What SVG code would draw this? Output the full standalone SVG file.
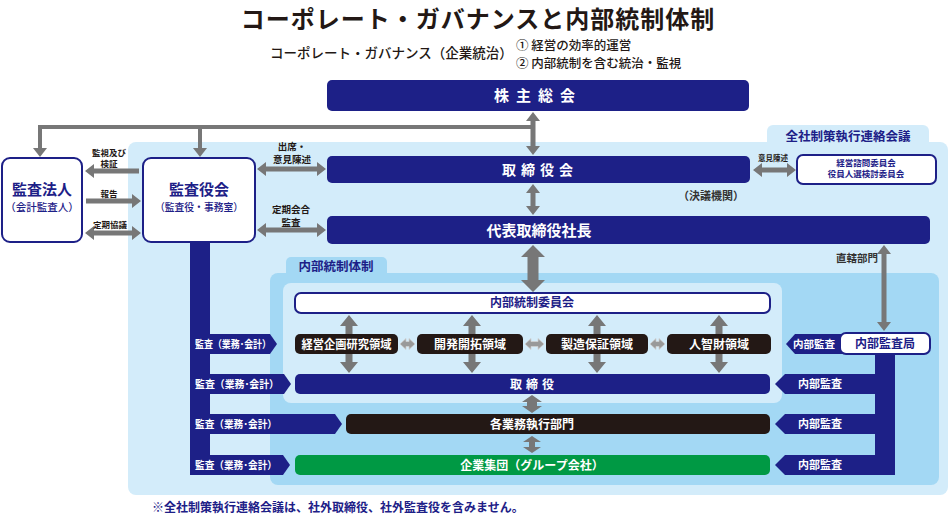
<svg xmlns="http://www.w3.org/2000/svg" width="950" height="516" viewBox="0 0 950 516">
<style>
text{font-family:"Noto Sans CJK JP","Noto Sans",sans-serif;font-weight:bold}
.nv{fill:#1d2087}
.dk{fill:#231815}
.gr{fill:#009944}
.w{fill:#ffffff}
.wb{fill:#ffffff;stroke:#1d2087;stroke-width:2}
.arr{fill:#777777}
.arrL{fill:#999999;stroke:#d0d0d0;stroke-width:0.8}
.ln{fill:none;stroke:#777777;stroke-width:4}
.lt{fill:#d3ecfa}
.md{fill:#a3d8f4}
.c{text-anchor:middle}
.m{font-weight:500}
</style>
<rect width="950" height="516" fill="#ffffff"/>

<g id="title">
<text x="478" y="28" class="c" font-size="24" fill="#231815" letter-spacing="1">コーポレート・ガバナンスと内部統制体制</text>
<text x="270" y="58" font-size="13.5" fill="#231815" class="m">コーポレート・ガバナンス（企業統治）</text>
<text x="516" y="50" font-size="12.5" fill="#231815" class="m">① 経営の効率的運営</text>
<text x="516" y="67.5" font-size="12.5" fill="#231815" class="m">② 内部統制を含む統治・監視</text>
</g>

<g id="regions">
<rect x="767" y="125" width="162" height="30" rx="6" class="lt"/>
<rect x="128" y="142" width="820" height="353" rx="8" class="lt"/>
<text x="848" y="141" class="c nv" font-size="12.5">全社制策執行連絡会議</text>
<rect x="286" y="257" width="101" height="26" rx="5" class="md"/>
<rect x="270" y="273" width="669" height="212" rx="8" class="md"/>
<text x="336" y="271" class="c nv" font-size="12.5">内部統制体制</text>
<rect x="283" y="283" width="499" height="120" rx="8" class="lt"/>
</g>

<g id="connectors">
<path class="ln" d="M40,149 V127 H533 M200,127 V149"/>
<polygon class="arr" points="33,148 47,148 40,157"/>
<polygon class="arr" points="193,148 207,148 200,157"/>
<polygon class="arr" points="533,112 540,121 535.5,121 535.5,146 540,146 533,155 526,146 530.5,146 530.5,121 526,121"/>
<polygon class="arr" points="85,171 94,164 94,168.5 139,168.5 139,173.5 94,173.5 94,178"/>
<polygon class="arr" points="141,201 132,194 132,198.5 86,198.5 86,203.5 132,203.5 132,208"/>
<polygon class="arr" points="85,233 94,226 94,230.5 132,230.5 132,226 141,233 132,240 132,235.5 94,235.5 94,240"/>
<polygon class="arr" points="257,169 266,162 266,166.5 317,166.5 317,162 326,169 317,176 317,171.5 266,171.5 266,176"/>
<polygon class="arr" points="257,230 266,223 266,227.5 317,227.5 317,223 326,230 317,237 317,232.5 266,232.5 266,237"/>
<polygon class="arr" points="753,170 762,163 762,167.5 787,167.5 787,163 796,170 787,177 787,172.5 762,172.5 762,177"/>
<polygon class="arr" points="533,184 540,193 535.5,193 535.5,206 540,206 533,215 526,206 530.5,206 530.5,193 526,193"/>
<polygon class="arr" points="884,245 891,254 886.5,254 886.5,322 891,322 884,331 877,322 881.5,322 881.5,254 877,254"/>
<polygon class="arr" points="533,245 545,257 538.5,257 538.5,280 545,280 533,292 521,280 527.5,280 527.5,257 521,257"/>
<polygon class="arr" points="349,315 358,326 352.5,326 352.5,362 358,362 349,373 340,362 345.5,362 345.5,326 340,326"/>
<polygon class="arr" points="472,315 481,326 475.5,326 475.5,362 481,362 472,373 463,362 468.5,362 468.5,326 463,326"/>
<polygon class="arr" points="597,315 606,326 600.5,326 600.5,362 606,362 597,373 588,362 593.5,362 593.5,326 588,326"/>
<polygon class="arr" points="719,315 728,326 722.5,326 722.5,362 728,362 719,373 710,362 715.5,362 715.5,326 710,326"/>
<polygon class="arrL" points="400,344 406,338.5 406,341.5 409,341.5 409,338.5 415,344 409,349.5 409,346.5 406,346.5 406,349.5"/>
<polygon class="arrL" points="525,344 531,338.5 531,341.5 538,341.5 538,338.5 544,344 538,349.5 538,346.5 531,346.5 531,349.5"/>
<polygon class="arrL" points="650,344 656,338.5 656,341.5 659,341.5 659,338.5 665,344 659,349.5 659,346.5 656,346.5 656,349.5"/>
<polygon class="arr" points="532,395 542,402 537,402 537,406 542,406 532,413 522,406 527,406 527,402 522,402"/>
<polygon class="arr" points="532,436 541,442 535,442 535,447 541,447 532,453 523,447 529,447 529,442 523,442"/>
<text x="109" y="156" class="c dk" font-size="8.5">監視及び</text>
<text x="109" y="167" class="c dk" font-size="8.5">検証</text>
<text x="109" y="197" class="c dk" font-size="8.5">報告</text>
<text x="110" y="228" class="c dk" font-size="8.5">定期協議</text>
<text x="292" y="150" class="c dk" font-size="9.5">出席・</text>
<text x="292" y="163" class="c dk" font-size="9.5">意見陳述</text>
<text x="291" y="213" class="c dk" font-size="9.5">定期会合</text>
<text x="291" y="226" class="c dk" font-size="9.5">監査</text>
<text x="773" y="161" class="c dk" font-size="7.5">意見陳述</text>
<text x="857" y="262" class="c" font-size="10.5" fill="#333333">直轄部門</text>
</g>

<g id="audit-left">
<rect x="190" y="243" width="20" height="232" class="nv"/>
<polygon class="nv" points="190,334 270,334 277,344 270,354 190,354"/>
<polygon class="nv" points="190,374 284,374 291,384 284,394 190,394"/>
<polygon class="nv" points="190,414 335,414 342,424 335,434 190,434"/>
<polygon class="nv" points="190,455 283,455 290,465 283,475 190,475"/>
<text x="195" y="348" class="w" font-size="10.5" textLength="76" lengthAdjust="spacingAndGlyphs">監査（業務･会計）</text>
<text x="195" y="388" class="w" font-size="10.5" textLength="84" lengthAdjust="spacingAndGlyphs">監査（業務･会計）</text>
<text x="195" y="428" class="w" font-size="10.5" textLength="82" lengthAdjust="spacingAndGlyphs">監査（業務･会計）</text>
<text x="195" y="469" class="w" font-size="10.5" textLength="82" lengthAdjust="spacingAndGlyphs">監査（業務･会計）</text>
</g>

<g id="audit-right">
<rect x="875" y="350" width="20" height="125" class="nv"/>
<polygon class="nv" points="786,344 795,334 850,334 850,354 795,354"/>
<polygon class="nv" points="775,384 785,374 895,374 895,394 785,394"/>
<polygon class="nv" points="775,424 785,414 895,414 895,434 785,434"/>
<polygon class="nv" points="775,465 785,455 895,455 895,475 785,475"/>
<text x="814" y="348" class="c w" font-size="10.5">内部監査</text>
<text x="820" y="388" class="c w" font-size="11">内部監査</text>
<text x="820" y="428" class="c w" font-size="11">内部監査</text>
<text x="820" y="469" class="c w" font-size="11">内部監査</text>
</g>

<g id="node-kabunushi">
<rect x="327" y="80" width="422" height="31" rx="5" class="nv"/>
<text x="538" y="101" class="c w" font-size="15" letter-spacing="7">株主総会</text>
</g>
<g id="node-kansahojin">
<rect x="2" y="158" width="80" height="84" rx="8" class="wb"/>
<text x="42" y="195" class="c nv" font-size="15">監査法人</text>
<text x="42" y="211" class="c nv m" font-size="10.5">（会計監査人）</text>
</g>
<g id="node-kansayakukai">
<rect x="143" y="158" width="112" height="84" rx="8" class="wb"/>
<text x="199" y="195" class="c nv" font-size="15">監査役会</text>
<text x="199" y="211" class="c nv m" font-size="10.5" textLength="88" lengthAdjust="spacingAndGlyphs">（監査役・事務室）</text>
</g>
<g id="node-torishimariyakukai">
<rect x="327" y="156" width="423" height="27" rx="5" class="nv"/>
<text x="540" y="175" class="c w" font-size="14" letter-spacing="5">取締役会</text>
<text x="711" y="200" class="c" font-size="11" fill="#333333">（決議機関）</text>
</g>
<g id="node-shimon">
<rect x="797" y="155" width="139" height="29" rx="6" class="wb"/>
<text x="866" y="166" class="c nv" font-size="8.5">経営諮問委員会</text>
<text x="866" y="177" class="c nv" font-size="8.5">役員人選検討委員会</text>
</g>
<g id="node-shacho">
<rect x="327" y="216" width="603" height="28" rx="5" class="nv"/>
<text x="539" y="236" class="c w" font-size="15">代表取締役社長</text>
</g>
<g id="node-naibutoseiiinkai">
<rect x="295" y="293" width="475" height="20" rx="6" class="wb"/>
<text x="532" y="307" class="c nv" font-size="12">内部統制委員会</text>
</g>
<g id="node-domain1">
<rect x="295" y="334" width="103" height="20" rx="5" class="dk"/>
<text x="346.5" y="348.5" class="c w" font-size="12" textLength="90" lengthAdjust="spacingAndGlyphs">経営企画研究領域</text>
</g>
<g id="node-domain2">
<rect x="417" y="334" width="106" height="20" rx="5" class="dk"/>
<text x="470" y="348.5" class="c w" font-size="12">開発開拓領域</text>
</g>
<g id="node-domain3">
<rect x="546" y="334" width="102" height="20" rx="5" class="dk"/>
<text x="597" y="348.5" class="c w" font-size="12">製造保証領域</text>
</g>
<g id="node-domain4">
<rect x="667" y="334" width="104" height="20" rx="5" class="dk"/>
<text x="719" y="348.5" class="c w" font-size="12">人智財領域</text>
</g>
<g id="node-naibukansakyoku">
<rect x="840" y="333" width="90" height="21" rx="6" class="wb"/>
<text x="885" y="348" class="c nv" font-size="12">内部監査局</text>
</g>
<g id="node-torishimariyaku">
<rect x="295" y="374" width="475" height="20" rx="5" class="nv"/>
<text x="534" y="388.5" class="c w" font-size="12" letter-spacing="4">取締役</text>
</g>
<g id="node-gyomu">
<rect x="346" y="414" width="424" height="20" rx="5" class="dk"/>
<text x="532" y="428.5" class="c w" font-size="12">各業務執行部門</text>
</g>
<g id="node-group">
<rect x="295" y="455" width="475" height="20" rx="5" class="gr"/>
<text x="532" y="469.5" class="c w" font-size="12">企業集団（グループ会社）</text>
</g>

<text x="152" y="512" class="nv" font-size="12">※全社制策執行連絡会議は、社外取締役、社外監査役を含みません。</text>
</svg>
